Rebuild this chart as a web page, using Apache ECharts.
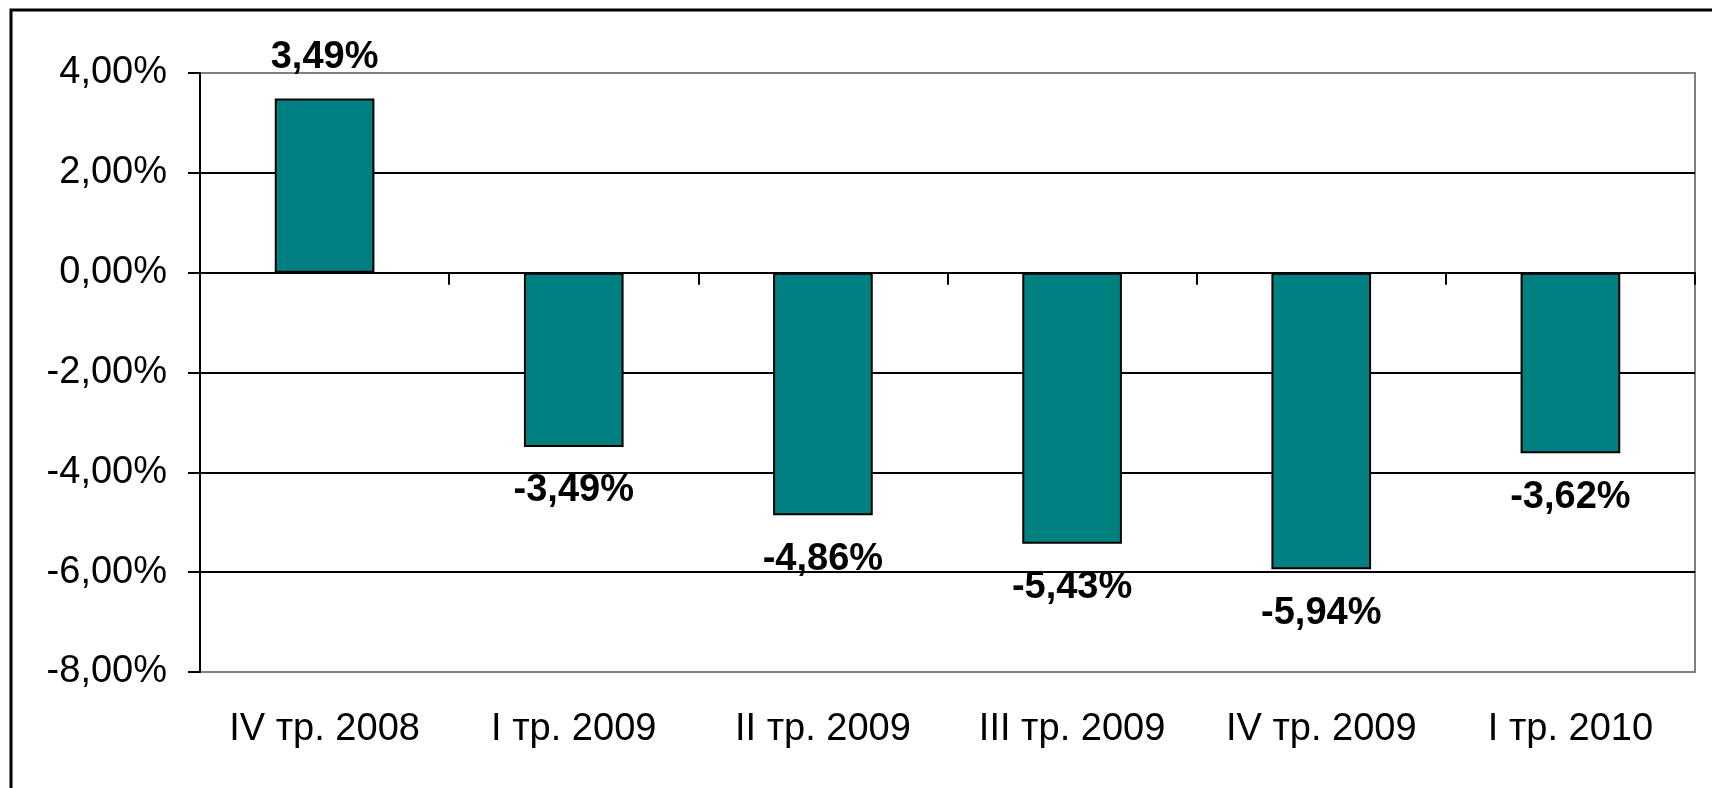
<!DOCTYPE html>
<html>
<head>
<meta charset="utf-8">
<script src="https://cdn.jsdelivr.net/npm/echarts@6/dist/echarts.min.js"></script>
<style>
html,body{margin:0;padding:0;background:#fff;}
#chart{width:1712px;height:788px;}
</style>
</head>
<body>
<div id="chart"></div>
<script>
const categories = ['IV тр. 2008', 'I тр. 2009', 'II тр. 2009', 'III тр. 2009', 'IV тр. 2009', 'I тр. 2010'];
const values = [3.49, -3.49, -4.86, -5.43, -5.94, -3.62];
const yTicks = { min: -8, max: 4, interval: 2 };

const FONT = '"Liberation Sans", Arial, sans-serif';
const fmt = v => v.toFixed(2).replace('.', ',') + '%';

const chart = echarts.init(document.getElementById('chart'), null, { renderer: 'canvas' });
chart.setOption({
  backgroundColor: '#fff',
  animation: false,
  graphic: [{
    type: 'rect',
    shape: { x: 11, y: 10, width: 1800, height: 900 },
    style: { fill: 'none', stroke: '#000', lineWidth: 3 },
    silent: true, z: 100
  }],
  grid: {
    left: 200, top: 73, width: 1495, height: 599,
    show: true, borderColor: '#808080', borderWidth: 2, backgroundColor: 'transparent'
  },
  xAxis: [{
    type: 'category',
    data: categories,
    axisLine: { onZero: true, lineStyle: { color: '#000', width: 2 } },
    axisTick: { show: true, length: 12, lineStyle: { color: '#000', width: 2 } },
    axisLabel: { show: false },
    splitLine: { show: false },
    z: 5
  }, {
    type: 'category',
    data: categories,
    position: 'bottom',
    axisLine: { show: false, onZero: false },
    axisTick: { show: false },
    axisLabel: { show: true, color: '#000', fontFamily: FONT, fontSize: 38, margin: 39 }
  }],
  yAxis: {
    type: 'value',
    min: yTicks.min, max: yTicks.max, interval: yTicks.interval,
    axisLine: { show: true, lineStyle: { color: '#000', width: 2 } },
    axisTick: { show: true, length: 12, lineStyle: { color: '#000', width: 2 } },
    axisLabel: { color: '#000', fontFamily: FONT, fontSize: 38, margin: 33, formatter: v => fmt(v) },
    splitLine: { show: true, lineStyle: { color: ['#808080', '#000', '#000', '#000', '#000', '#000', '#808080'], width: 2 } }
  },
  series: [{
    type: 'bar',
    xAxisIndex: 0,
    barWidth: '40%',
    data: values.map(v => ({ value: v, label: { position: v < 0 ? 'bottom' : 'top', distance: v < 0 ? 25 : 22 } })),
    itemStyle: { color: '#008080', borderColor: '#000', borderWidth: 2 },
    label: {
      show: true, color: '#000', fontFamily: FONT, fontSize: 38, fontWeight: 'bold',
      formatter: p => fmt(p.value)
    },
    z: 3
  }]
});
</script>
</body>
</html>
